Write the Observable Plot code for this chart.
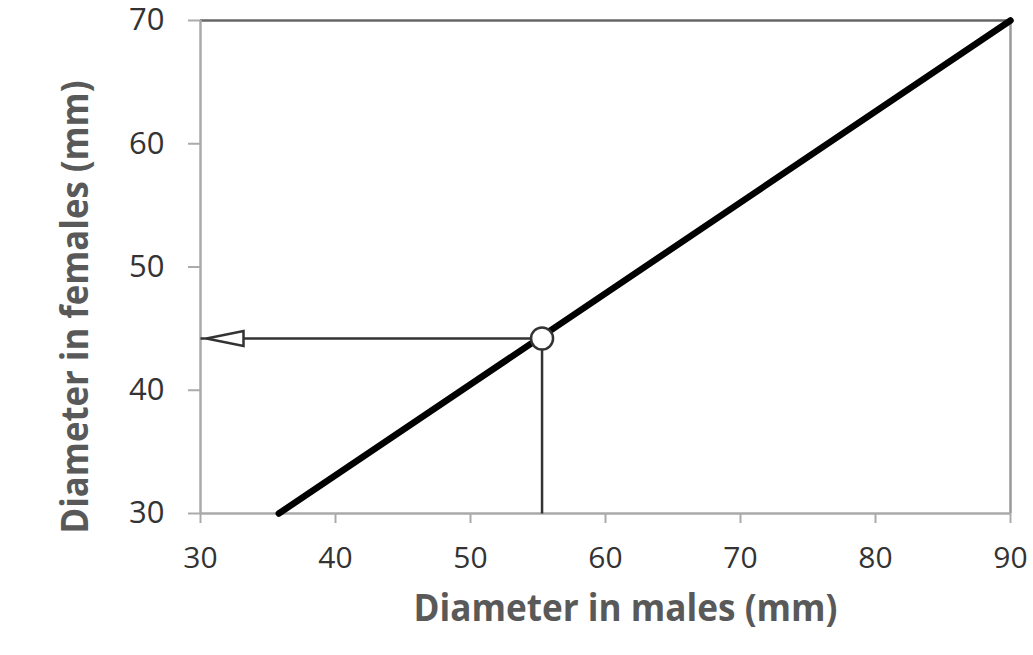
<!DOCTYPE html>
<html><head><meta charset="utf-8">
<script src="https://cdn.jsdelivr.net/npm/d3@7"></script>
<script src="https://cdn.jsdelivr.net/npm/@observablehq/plot@0.6"></script>
<style>
body{margin:0;background:#fff;}
#chart svg{display:block;}
</style>
</head><body><div id="chart"></div>
<script>
const xTicks = [30, 40, 50, 60, 70, 80, 90];
const yTicks = [30, 40, 50, 60, 70];
const lineX = [35.8, 90];
const lineY = [30, 70];
const pointX = [55.3];
const pointY = [44.2];
const xLabel = "Diameter in males (mm)";
const yLabel = "Diameter in females (mm)";

const lineData = lineX.map((x, i) => ({x, y: lineY[i]}));
const pt = {x: pointX[0], y: pointY[0]};

const leftTriangle = {
  draw(ctx) {
    ctx.moveTo(6, 0);
    ctx.lineTo(43, -7.5);
    ctx.lineTo(43, 7.5);
    ctx.closePath();
  }
};

const chart = Plot.plot({
  width: 1033,
  height: 655,
  marginLeft: 200,
  marginRight: 23,
  marginTop: 20,
  marginBottom: 142,
  x: {domain: [30, 90]},
  y: {domain: [30, 70]},
  style: {fontFamily: "'Open Sans', sans-serif", background: "#fff"},
  marks: [
    Plot.ruleY([70], {stroke: "#666", strokeWidth: 2.5}),
    Plot.ruleX([90], {stroke: "#999", strokeWidth: 2.5}),
    Plot.ruleX([30], {stroke: "#aaa", strokeWidth: 2.5}),
    Plot.ruleY([30], {stroke: "#aaa", strokeWidth: 2.5}),
    Plot.axisY({ticks: yTicks, tickSize: 12, tickPadding: 24, stroke: "#aaa", strokeWidth: 2, fontSize: 31, fill: "#333", label: null}),
    Plot.axisX({ticks: xTicks, tickSize: 10, tickPadding: 23, stroke: "#aaa", strokeWidth: 2, fontSize: 30, fill: "#333", label: null}),
    Plot.line(lineData, {x: "x", y: "y", stroke: "#000", strokeWidth: 6.5}),
    Plot.link([pt], {x1: 30, y1: "y", x2: "x", y2: "y", stroke: "#333", strokeWidth: 2.5}),
    Plot.link([pt], {x1: "x", y1: 30, x2: "x", y2: "y", stroke: "#333", strokeWidth: 2.5}),
    Plot.dot([pt], {x: () => 30, y: "y", symbol: leftTriangle, fill: "#fff", stroke: "#333", strokeWidth: 2.5, r: 5}),
    Plot.dot([pt], {x: "x", y: "y", r: 11, fill: "#fff", stroke: "#333", strokeWidth: 2.5}),
    Plot.text([xLabel], {frameAnchor: "bottom", dx: 20, dy: 96, text: d => d, textAnchor: "middle", lineAnchor: "middle", fontSize: 37, fontWeight: "bold", fill: "#595959", className: "xlab"}),
    Plot.text([yLabel], {frameAnchor: "left", dx: -124, dy: 40, rotate: -90, text: d => d, textAnchor: "middle", lineAnchor: "middle", fontSize: 37, fontWeight: "bold", fill: "#595959", className: "ylab"})
  ]
});
document.getElementById("chart").appendChild(chart);
d3.select(chart).selectAll(".xlab text").attr("textLength", 424).attr("lengthAdjust", "spacingAndGlyphs");
d3.select(chart).selectAll(".ylab text").attr("textLength", 453).attr("lengthAdjust", "spacingAndGlyphs");
</script>
</body></html>
